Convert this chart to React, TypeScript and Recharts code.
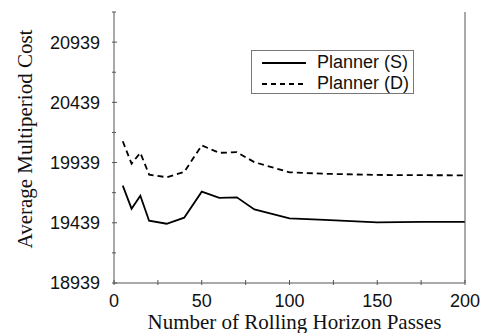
import { LineChart, Line, XAxis, YAxis } from "recharts";

const passes = [5, 10, 15, 20, 30, 40, 50, 60, 70, 80, 100, 120, 150, 175, 200];
const plannerS = [19747, 19556, 19664, 19456, 19431, 19481, 19697, 19645, 19650, 19550, 19475, 19463, 19442, 19446, 19447];
const plannerD = [20116, 19930, 20020, 19839, 19817, 19861, 20081, 20020, 20025, 19942, 19858, 19846, 19836, 19834, 19833];

const xTicks = [0, 25, 50, 75, 100, 125, 150, 175, 200];
const yTicks = [18939, 19189, 19439, 19689, 19939, 20189, 20439, 20689, 20939, 21189];
const yMajor = [18939, 19439, 19939, 20439, 20939];
const xMajor = [0, 50, 100, 150, 200];

const seriesNames = ["Planner (S)", "Planner (D)"];

const data = passes.map((p, i) => ({ pass: p, s: plannerS[i], d: plannerD[i] }));

const AXIS = "#555";
const SANS = "'Liberation Sans', Arial, sans-serif";
const SERIF = "'Liberation Serif', 'Times New Roman', serif";

const LeftTick = (props: any) => {
  const { x, y, payload } = props;
  const major = yMajor.includes(payload.value);
  return (
    <g>
      <line x1={x} y1={y} x2={x + (major ? 5 : 4)} y2={y} stroke={AXIS} />
      {major && (
        <text x={x - 12} y={y} dy="0.36em" textAnchor="end" fontSize={18} fontFamily={SANS} fill="#111">
          {payload.value}
        </text>
      )}
    </g>
  );
};

const RightTick = (props: any) => {
  const { x, y } = props;
  return <line x1={x} y1={y} x2={x - 5} y2={y} stroke={AXIS} />;
};

const BottomTick = (props: any) => {
  const { x, y, payload } = props;
  const major = xMajor.includes(payload.value);
  return (
    <g>
      <line x1={x} y1={y} x2={x} y2={y - 5} stroke={AXIS} />
      {major && (
        <text x={x} y={y + 22} textAnchor="middle" fontSize={18} fontFamily={SANS} fill="#111">
          {payload.value}
        </text>
      )}
    </g>
  );
};

const TopTick = (props: any) => {
  const { x, y } = props;
  return <line x1={x} y1={y} x2={x} y2={y + 5} stroke={AXIS} />;
};

const LegendBox = () => (
  <div
    style={{
      position: "absolute",
      left: 251,
      top: 50,
      width: 163,
      height: 44,
      border: "1px solid #777",
      background: "#fff",
      fontFamily: SANS,
      fontSize: 18,
      color: "#111",
      boxSizing: "border-box",
    }}
  >
    {seriesNames.map((name, i) => (
      <div key={name} style={{ display: "flex", alignItems: "center", height: 21, marginTop: i === 0 ? 1 : 0 }}>
        <svg width={65} height={10} style={{ flexShrink: 0 }}>
          <line
            x1={10}
            y1={5}
            x2={54}
            y2={5}
            stroke="#000"
            strokeWidth={1.8}
            strokeDasharray={i === 1 ? "5 4" : undefined}
          />
        </svg>
        <span>{name}</span>
      </div>
    ))}
  </div>
);

export default function App() {
  return (
    <div style={{ position: "absolute", left: 0, top: 0, width: 481, height: 333, background: "#fff", overflow: "hidden" }}>
      <LineChart width={481} height={333} data={data} margin={{ top: 12, right: 0, bottom: 0, left: 0 }}>
        <XAxis
          dataKey="pass"
          type="number"
          domain={[0, 200]}
          ticks={xTicks}
          interval={0}
          height={50}
          tickLine={false}
          tickSize={0}
          axisLine={{ stroke: AXIS }}
          tick={BottomTick}
        />
        <XAxis
          xAxisId="top"
          orientation="top"
          dataKey="pass"
          type="number"
          domain={[0, 200]}
          ticks={xTicks}
          interval={0}
          height={0}
          tickLine={false}
          tickSize={0}
          axisLine={{ stroke: AXIS }}
          tick={TopTick}
        />
        <YAxis
          type="number"
          domain={[18939, 21189]}
          ticks={yTicks}
          interval={0}
          width={114}
          tickLine={false}
          tickSize={0}
          axisLine={{ stroke: AXIS }}
          tick={LeftTick}
        />
        <YAxis
          yAxisId="right"
          orientation="right"
          type="number"
          domain={[18939, 21189]}
          ticks={yTicks}
          interval={0}
          width={16}
          tickLine={false}
          tickSize={0}
          axisLine={{ stroke: AXIS }}
          tick={RightTick}
        />
        <Line
          dataKey="s"
          name={seriesNames[0]}
          stroke="#000"
          strokeWidth={1.8}
          dot={false}
          isAnimationActive={false}
        />
        <Line
          dataKey="d"
          name={seriesNames[1]}
          stroke="#000"
          strokeWidth={1.8}
          strokeDasharray="6 4"
          dot={false}
          isAnimationActive={false}
        />
      </LineChart>
      <LegendBox />
      <div
        style={{
          position: "absolute",
          left: 119,
          width: 351,
          top: 313,
          lineHeight: "18px",
          textAlign: "center",
          fontFamily: SERIF,
          fontSize: 21,
          color: "#111",
          whiteSpace: "nowrap",
        }}
      >
        Number of Rolling Horizon Passes
      </div>
      <div
        style={{
          position: "absolute",
          left: 25,
          top: 139,
          transform: "translate(-50%, -50%) rotate(-90deg)",
          fontFamily: SERIF,
          fontSize: 21,
          color: "#111",
          whiteSpace: "nowrap",
        }}
      >
        Average Multiperiod Cost
      </div>
    </div>
  );
}
